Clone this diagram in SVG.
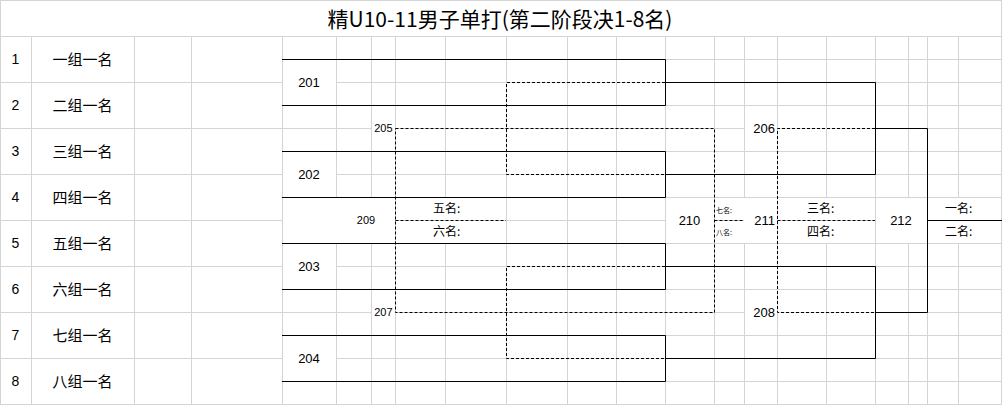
<svg xmlns="http://www.w3.org/2000/svg" width="1002" height="405" viewBox="0 0 1002 405">
<style>
.grid{stroke:#d4d4d4;stroke-width:1;fill:none}
.solid{stroke:#000;stroke-width:1;fill:none}
.dash{stroke:#000;stroke-width:1;fill:none;stroke-dasharray:3 2}
.num{font-family:"Liberation Sans",Arial,sans-serif;font-size:14px;fill:#000;text-anchor:middle}
.lab{font-family:"Noto Sans CJK SC","Noto Sans",sans-serif;font-size:15px;fill:#000;text-anchor:middle}
.m{font-family:"Liberation Sans",Arial,sans-serif;font-size:13px;fill:#000;text-anchor:middle}
.me{font-family:"Liberation Sans",Arial,sans-serif;font-size:13px;fill:#000;text-anchor:end}
.ms{font-family:"Liberation Sans",Arial,sans-serif;font-size:11px;fill:#000}
.pl{font-family:"Noto Sans CJK SC","Noto Sans",sans-serif;font-size:12px;fill:#000}
.tiny{font-family:"Noto Sans CJK SC","Noto Sans",sans-serif;font-size:7px;fill:#000}
.title{font-family:"Noto Sans CJK SC","Noto Sans",sans-serif;font-size:21px;fill:#000;text-anchor:middle}
</style>
<rect width="1002" height="405" fill="#fff"/>
<g id="grid" class="grid">
<path d="M0 0.5H1002M0 36.5H1002M282 59.5H1002M0 82.5H282M336 82.5H1002M282 105.5H1002M0 128.5H371M395 128.5H744M777 128.5H1002M282 151.5H1002M0 174.5H282M336 174.5H1002M282 197.5H1002M0 220.5H282M395 220.5H665M714 220.5H744M777 220.5H875M927 220.5H1002M282 243.5H1002M0 266.5H282M336 266.5H1002M282 289.5H1002M0 312.5H371M395 312.5H744M777 312.5H1002M282 335.5H1002M0 358.5H282M336 358.5H1002M282 381.5H1002M0 404.5H1002"/>
<path d="M0.5 0V405M31.5 36V405M134.5 36V405M191.5 36V405M282.5 36V405M336.5 36V197M336.5 243V405M371.5 36V197M371.5 243V405M395.5 36V405M445.5 36V197M445.5 243V405M506.5 36V405M567.5 36V405M616.5 36V405M665.5 36V405M714.5 36V405M744.5 36V197M744.5 243V405M777.5 36V405M826.5 36V197M826.5 243V405M875.5 36V405M908.5 36V197M908.5 243V405M927.5 36V405M958.5 36V197M958.5 243V405M1001.5 0V405"/>
</g>
<g id="title"><text class="title" x="500" y="27">精U10-11男子单打(第二阶段决1-8名)</text></g>
<g id="players">
<g id="p1"><text class="num" x="15.5" y="64">1</text><text class="lab" x="82.5" y="64.5">一组一名</text></g>
<g id="p2"><text class="num" x="15.5" y="110">2</text><text class="lab" x="82.5" y="110.5">二组一名</text></g>
<g id="p3"><text class="num" x="15.5" y="156">3</text><text class="lab" x="82.5" y="156.5">三组一名</text></g>
<g id="p4"><text class="num" x="15.5" y="202">4</text><text class="lab" x="82.5" y="202.5">四组一名</text></g>
<g id="p5"><text class="num" x="15.5" y="248">5</text><text class="lab" x="82.5" y="248.5">五组一名</text></g>
<g id="p6"><text class="num" x="15.5" y="294">6</text><text class="lab" x="82.5" y="294.5">六组一名</text></g>
<g id="p7"><text class="num" x="15.5" y="340">7</text><text class="lab" x="82.5" y="340.5">七组一名</text></g>
<g id="p8"><text class="num" x="15.5" y="386">8</text><text class="lab" x="82.5" y="386.5">八组一名</text></g>
</g>
<g id="connectors">
<path class="solid" d="M282 59.5H665.5V105.5H282M282 151.5H665.5V197.5H282M282 243.5H665.5V289.5H282M282 335.5H665.5V381.5H282M665.5 82.5H875.5V174.5H665.5M665.5 266.5H875.5V358.5H665.5M875.5 128.5H927.5V312.5H875.5M927.5 220.5H1002"/>
<path class="dash" d="M665 82.5H506.5V174.5H665M665 266.5H506.5V358.5H665M395.5 128.5H714.5V312.5H395.5ZM395.5 220.5H506M714.5 220.5H744M875 128.5H777.5V312.5H875M777.5 220.5H875"/>
</g>
<g id="m201"><text class="m" x="309" y="86.5">201</text></g>
<g id="m202"><text class="m" x="309" y="178.5">202</text></g>
<g id="m203"><text class="m" x="309" y="270.5">203</text></g>
<g id="m204"><text class="m" x="309" y="362.5">204</text></g>
<g id="m205"><text class="ms" x="392.5" y="132" text-anchor="end">205</text></g>
<g id="m207"><text class="ms" x="392.5" y="316" text-anchor="end">207</text></g>
<g id="m209"><text class="ms" x="366" y="224" text-anchor="middle">209</text><text class="pl" x="433" y="213">五名:</text><text class="pl" x="433" y="236">六名:</text></g>
<g id="m206"><text class="me" x="775" y="132.5">206</text></g>
<g id="m208"><text class="me" x="775" y="316.5">208</text></g>
<g id="m210"><text class="m" x="689.5" y="225">210</text><text class="tiny" x="716" y="212.5">七名:</text><text class="tiny" x="716" y="235">八名:</text></g>
<g id="m211"><text class="me" x="775" y="225">211</text><text class="pl" x="807" y="213">三名:</text><text class="pl" x="807" y="236">四名:</text></g>
<g id="m212"><text class="m" x="901" y="225">212</text><text class="pl" x="945" y="213">一名:</text><text class="pl" x="945" y="236">二名:</text></g>
</svg>
